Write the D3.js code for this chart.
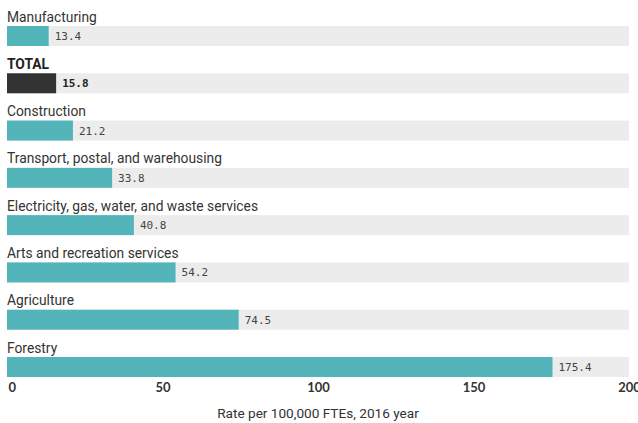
<!DOCTYPE html>
<html>
<head>
<meta charset="utf-8">
<script src="https://cdn.jsdelivr.net/npm/d3@7"></script>
<style>
  body { margin: 0; background: #fff; }
  svg { display: block; }
</style>
</head>
<body>
<script>
const wid = 638, hei = 423;

// data
const categories = [
    'Manufacturing',
    'TOTAL',
    'Construction',
    'Transport, postal, and warehousing',
    'Electricity, gas, water, and waste services',
    'Arts and recreation services',
    'Agriculture',
    'Forestry'
];
const rates = [13.4, 15.8, 21.2, 33.8, 40.8, 54.2, 74.5, 175.4];
const tickValues = [0, 50, 100, 150, 200];
const axisTitle = 'Rate per 100,000 FTEs, 2016 year';

const dataSet = categories.map((c, i) => ({name: c, value: rates[i], total: c === 'TOTAL'}));

const barH = 20;
const x = d3.scaleLinear().domain([0, 200]).range([7, 629]);
const y = d3.scalePoint().domain(categories).range([26, 357]);

let svgPlot = d3.select('body')
    .append('svg')
    .attr('width', wid)
    .attr('height', hei);

let rows = svgPlot.selectAll('g.row')
    .data(dataSet)
    .enter()
    .append('g')
    .attr('class', 'row');

// grey track
rows.append('rect')
    .attr('x', x(0))
    .attr('y', d => y(d.name))
    .attr('width', x(200) - x(0))
    .attr('height', barH)
    .attr('fill', '#ececec');

// bar
rows.append('rect')
    .attr('x', x(0))
    .attr('y', d => y(d.name))
    .attr('width', d => x(d.value) - x(0))
    .attr('height', barH)
    .attr('fill', d => d.total ? '#333333' : '#53b5b9');

// category label
rows.append('text')
    .attr('x', 7)
    .attr('y', d => y(d.name) - 4.5)
    .attr('font-family', 'Roboto, sans-serif')
    .attr('font-size', 13.8)
    .attr('font-weight', d => d.total ? 700 : 400)
    .attr('fill', d => d.total ? '#222' : '#333')
    .text(d => d.name);

// value label
rows.append('text')
    .attr('x', d => x(d.value) + 6)
    .attr('y', d => y(d.name) + barH / 2)
    .attr('dy', '0.36em')
    .attr('font-family', '"DejaVu Sans Mono", monospace')
    .attr('font-size', 11)
    .attr('font-weight', d => d.total ? 700 : 400)
    .attr('fill', d => d.total ? '#222' : '#444')
    .text(d => d.value.toFixed(1));

// x axis
let axis = svgPlot.append('g')
    .attr('transform', 'translate(0,' + 392 + ')')
    .call(d3.axisBottom(x).tickValues(tickValues).tickSize(0).tickPadding(0));
axis.select('.domain').remove();
axis.selectAll('text')
    .attr('font-family', 'Lato, sans-serif')
    .attr('font-size', 13)
    .attr('font-weight', 700)
    .attr('fill', '#333')
    .attr('dy', 0)
    .attr('text-anchor', d => d === 0 ? 'start' : 'middle')
    .attr('x', d => d === 0 ? 1 : 0);

svgPlot.append('text')
    .attr('x', x(100))
    .attr('y', 418)
    .attr('text-anchor', 'middle')
    .attr('font-family', 'Roboto, sans-serif')
    .attr('font-size', 13.6)
    .attr('fill', '#333')
    .text(axisTitle);
</script>
</body>
</html>
